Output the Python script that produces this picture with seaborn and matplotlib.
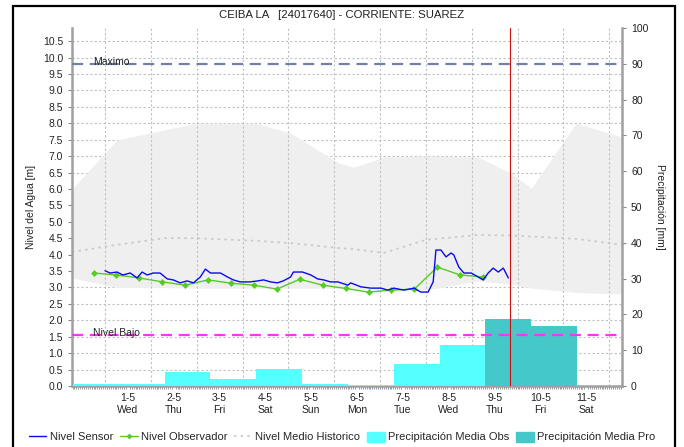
import seaborn as sns
import matplotlib.pyplot as plt
from matplotlib.lines import Line2D
from matplotlib.patches import Patch, Rectangle
import numpy as np

# days counted from 1 May 00:00
sensor_days = [0.0, 0.11, 0.26, 0.39, 0.55, 0.70, 0.81, 0.92, 1.05, 1.20, 1.36, 1.49, 1.64,
               1.79, 1.93, 2.08, 2.19, 2.30, 2.52, 2.67, 2.80, 2.95, 3.17, 3.33, 3.46, 3.61,
               3.76, 3.89, 4.05, 4.11, 4.31, 4.49, 4.64, 4.77, 4.92, 5.08, 5.30, 5.36, 5.58,
               5.80, 6.02, 6.17, 6.30, 6.52, 6.74, 6.89, 7.05, 7.16, 7.22, 7.33, 7.44, 7.55,
               7.61, 7.72, 7.83, 7.99, 8.14, 8.25, 8.36, 8.47, 8.58, 8.69, 8.80]
sensor_level = [3.51, 3.44, 3.47, 3.38, 3.44, 3.29, 3.47, 3.38, 3.44, 3.44, 3.26, 3.23, 3.14,
                3.20, 3.14, 3.32, 3.56, 3.44, 3.44, 3.32, 3.23, 3.17, 3.17, 3.20, 3.23, 3.17,
                3.14, 3.20, 3.32, 3.47, 3.47, 3.38, 3.26, 3.23, 3.17, 3.17, 3.07, 3.14, 3.02,
                2.98, 2.98, 2.92, 2.98, 2.92, 2.98, 2.86, 2.86, 3.17, 4.14, 4.14, 3.93, 4.05,
                3.99, 3.62, 3.44, 3.44, 3.32, 3.23, 3.44, 3.59, 3.47, 3.59, 3.29]

obs_days = [-0.25, 0.25, 0.75, 1.25, 1.75, 2.25, 2.75, 3.25, 3.75, 4.25, 4.75, 5.25,
            5.75, 6.25, 6.75, 7.25, 7.75, 8.25]
obs_level = [3.44, 3.38, 3.29, 3.17, 3.07, 3.23, 3.13, 3.07, 2.95, 3.25, 3.07, 2.97,
             2.86, 2.92, 2.95, 3.62, 3.38, 3.32]

hist_days = [-0.72, 0.26, 1.3, 2.0, 3.3, 4.05, 5.11, 5.43, 6.08, 7.0, 8.14, 8.86, 9.3, 10.28, 11.28]
hist_upper = [6.0, 7.49, 7.8, 8.0, 8.0, 7.7, 6.78, 6.66, 6.97, 7.0, 6.97, 6.48, 6.02, 8.0, 7.58]
hist_lower = [3.29, 3.0, 3.0, 2.98, 2.98, 2.98, 2.98, 2.95, 2.92, 2.92, 3.2, 3.1, 2.98, 2.85, 2.8]
hist_mean = [4.08, 4.3, 4.5, 4.5, 4.42, 4.35, 4.2, 4.17, 4.05, 4.45, 4.6, 4.58, 4.55, 4.48, 4.3]

precip_obs_start = [-0.7, 0.3, 1.3, 2.3, 3.3, 4.3, 5.3, 6.3, 7.3]
precip_obs = [0.5, 0.5, 4.0, 2.0, 4.7, 0.5, 0.3, 6.1, 11.5]
precip_pro_start = [8.3, 9.3]
precip_pro = [18.7, 16.8]

day_labels = ["1-5\nWed", "2-5\nThu", "3-5\nFri", "4-5\nSat", "5-5\nSun", "6-5\nMon",
              "7-5\nTue", "8-5\nWed", "9-5\nThu", "10-5\nFri", "11-5\nSat"]

nivel_maximo = 9.8
nivel_bajo = 1.55
now_day = 8.84

sns.set_theme(style="white")
plt.rcParams["font.family"] = ["Liberation Sans", "DejaVu Sans"]

fig = plt.figure(figsize=(6.84, 4.47), dpi=100)
pos = [72 / 684, 1 - 386 / 447, 550 / 684, 358 / 447]

# bottom layer: level axis with band and grid
ax = fig.add_axes(pos)
ax.fill_between(hist_days, hist_lower, hist_upper, color="#efefef", lw=0)
ax.plot(hist_days, hist_mean, color="#c8c8c8", lw=1.2, ls=(0, (1.5, 2.5)))
ax.set_xlim(-0.72, 11.28)
ax.set_ylim(0, 10.9)
ax.set_yticks(np.arange(0, 10.51, 0.5))
ax.set_yticklabels([f"{v:.1f}" for v in np.arange(0, 10.51, 0.5)])
ax.grid(axis="y", color="#c0c0c0", ls=(0, (2, 2)), lw=0.8)
for d in range(12):
    ax.axvline(d, color="#c0c0c0", ls=(0, (2, 2)), lw=0.8)
ax.set_xticks([d + 0.5 for d in range(11)])
ax.set_xticklabels(day_labels)
ax.set_xticks(np.arange(-17, 24 * 11.28) / 24, minor=True)
ax.tick_params(axis="x", which="major", length=0, pad=5, labelsize=7.5, colors="#222222")
ax.tick_params(axis="x", which="minor", length=2, width=0.6, color="#888888", bottom=True)
ax.tick_params(axis="y", length=3, width=0.8, color="#888888", labelsize=7.5,
               labelcolor="#222222", left=True)
ax.set_ylabel("Nivel del Agua [m]", fontsize=7.5, color="#222222", labelpad=5)
for s in ["left", "bottom"]:
    ax.spines[s].set_color("#a0a0a0")
    ax.spines[s].set_linewidth(1.8)
ax.spines["top"].set_visible(False)
ax.spines["right"].set_visible(False)

# middle layer: precipitation bars
axp = ax.twinx()
axp.bar(precip_obs_start, precip_obs, width=1.0, align="edge", color="#55ffff", lw=0)
axp.bar(precip_pro_start, precip_pro, width=1.0, align="edge", color="#44c8c8", lw=0)
axp.set_ylim(0, 100)
axp.set_yticks(range(0, 101, 10))
axp.tick_params(axis="y", length=3, width=0.8, color="#888888", labelsize=7.5,
                labelcolor="#222222", right=True)
axp.set_ylabel("Precipitación [mm]", fontsize=7.5, color="#222222", rotation=270, labelpad=12)
axp.spines["right"].set_color("#a0a0a0")
axp.spines["right"].set_linewidth(1.8)
for s in ["left", "bottom", "top"]:
    axp.spines[s].set_visible(False)
axp.grid(False)

# top layer: level lines
axt = fig.add_axes(pos, sharex=ax, sharey=ax)
axt.axis("off")
axt.axhline(nivel_maximo, color="#7080a8", lw=1.6, ls=(0, (5, 3)))
axt.axhline(nivel_bajo, color="#ff33ff", lw=1.6, ls=(0, (5, 3)))
axt.text(-0.26, nivel_maximo - 0.08, "Maximo", fontsize=7.5, color="#222222", va="bottom")
axt.text(-0.26, nivel_bajo - 0.08, "Nivel Bajo", fontsize=7.5, color="#222222", va="bottom")
sns.lineplot(x=obs_days, y=obs_level, ax=axt, color="#55cc22", lw=1, marker="D",
             markersize=3.5, markeredgewidth=0)
sns.lineplot(x=sensor_days, y=sensor_level, ax=axt, color="#0a0aee", lw=1)
axt.axvline(now_day, color="#cc1111", lw=0.8)
axt.set_xlim(-0.72, 11.28)
axt.set_ylim(0, 10.9)

fig.text(0.5, 1 - 15 / 447, "CEIBA LA   [24017640] - CORRIENTE: SUAREZ",
         ha="center", va="center", fontsize=8.2, color="#222222")

handles = [
    Line2D([], [], color="#0a0aee", lw=1),
    Line2D([], [], color="#55cc22", lw=1, marker="D", markersize=3, markeredgewidth=0),
    Line2D([], [], color="#c8c8c8", lw=1.2, ls=(0, (1.5, 2.5))),
    Patch(color="#55ffff"),
    Patch(color="#44c8c8"),
]
labels = ["Nivel Sensor", "Nivel Observador", "Nivel Medio Historico",
          "Precipitación Media Obs", "Precipitación Media Pro"]
fig.legend(handles, labels, loc="center", bbox_to_anchor=(0.5, 1 - 437 / 447), ncol=5,
           frameon=False, fontsize=8, handlelength=1.6, handleheight=1.0,
           handletextpad=0.3, columnspacing=0.6)

# outer frame of the figure
fig.patches.append(Rectangle((13 / 684, -0.02), 662 / 684, 1 - 6 / 447 + 0.02,
                             transform=fig.transFigure, fill=False, ec="black", lw=1.6))

fig.savefig("out.png", dpi=100)
